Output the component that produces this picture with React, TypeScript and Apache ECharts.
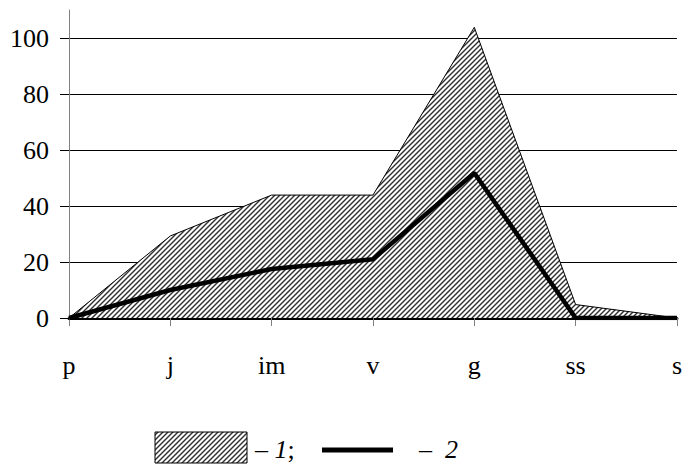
import React, { useEffect, useRef } from "react";
import * as echarts from "echarts";

const categories = ["p", "j", "im", "v", "g", "ss", "s"];
const series1 = [0, 29.3, 43.9, 43.9, 103.8, 4.8, 0];
const series2 = [0, 10, 17.5, 21, 51.8, 0, 0];
const yTicks = [0, 20, 40, 60, 80, 100];

function makeHatch(): string {
  const c = document.createElement("canvas");
  c.width = 10;
  c.height = 10;
  const ctx = c.getContext("2d")!;
  ctx.fillStyle = "#ffffff";
  ctx.fillRect(0, 0, 10, 10);
  ctx.strokeStyle = "#303030";
  ctx.lineWidth = 1.4;
  for (let k = -2; k <= 3; k++) {
    ctx.beginPath();
    ctx.moveTo(k * 5 - 1, 11);
    ctx.lineTo(k * 5 + 11, -1);
    ctx.stroke();
  }
  return c.toDataURL();
}

export default function App() {
  const ref = useRef<HTMLDivElement>(null);
  useEffect(() => {
    if (!ref.current) return;
    const chart = echarts.init(ref.current, null, { renderer: "svg" });
    const hatch = makeHatch();
    const pattern: any = { image: hatch, repeat: "repeat" };
    const font = "Times New Roman";
    chart.setOption({
      animation: false,
      grid: { left: 69, right: 4, top: 10, bottom: 149 },
      xAxis: {
        type: "category",
        data: categories,
        boundaryGap: false,
        axisLine: { lineStyle: { color: "#000", width: 3 } },
        axisTick: { show: true, alignWithLabel: true, length: 8, lineStyle: { color: "#808080", width: 1 } },
        axisLabel: { color: "#000", fontFamily: font, fontSize: 26, margin: 34 },
        splitLine: { show: false },
      },
      yAxis: {
        type: "value",
        min: 0,
        max: 110,
        interval: 20,
        axisLine: { show: true, lineStyle: { color: "#808080", width: 1 } },
        axisTick: { show: true, length: 9, lineStyle: { color: "#000", width: 1 } },
        axisLabel: {
          color: "#000",
          fontFamily: font,
          fontSize: 26,
          margin: 20,
          showMaxLabel: false,
          formatter: (v: number) => (yTicks.includes(v) ? String(v) : ""),
        },
        splitLine: { show: true, showMaxLine: false, lineStyle: { color: "#000", width: 1 } },
      },
      series: [
        {
          type: "line",
          data: series1,
          symbol: "none",
          lineStyle: { color: "#000", width: 1 },
          areaStyle: { color: pattern, opacity: 1 },
          z: 2,
        },
        {
          type: "line",
          data: series2,
          symbol: "none",
          lineStyle: { color: "#000", width: 4.5 },
          z: 3,
        },
      ],
      graphic: [
        {
          type: "rect",
          shape: { x: 155, y: 432, width: 92, height: 31 },
          style: { fill: pattern, stroke: "#000", lineWidth: 1 },
        },
        {
          type: "text",
          x: 255,
          y: 449,
          style: {
            text: "{n|– }{i|1}{n|;}",
            verticalAlign: "middle",
            rich: {
              n: { fontFamily: font, fontSize: 26, color: "#000" },
              i: { fontFamily: font, fontSize: 26, fontStyle: "italic", color: "#000" },
            },
          },
        },
        {
          type: "line",
          shape: { x1: 322, y1: 450, x2: 393, y2: 450 },
          style: { stroke: "#000", lineWidth: 5 },
        },
        {
          type: "text",
          x: 419,
          y: 449,
          style: {
            text: "{n|–  }{i|2}",
            verticalAlign: "middle",
            rich: {
              n: { fontFamily: font, fontSize: 26, color: "#000" },
              i: { fontFamily: font, fontSize: 26, fontStyle: "italic", color: "#000" },
            },
          },
        },
      ],
    });
    return () => chart.dispose();
  }, []);
  return <div ref={ref} style={{ width: 685, height: 467, position: "absolute", left: 0, top: 0 }} />;
}
